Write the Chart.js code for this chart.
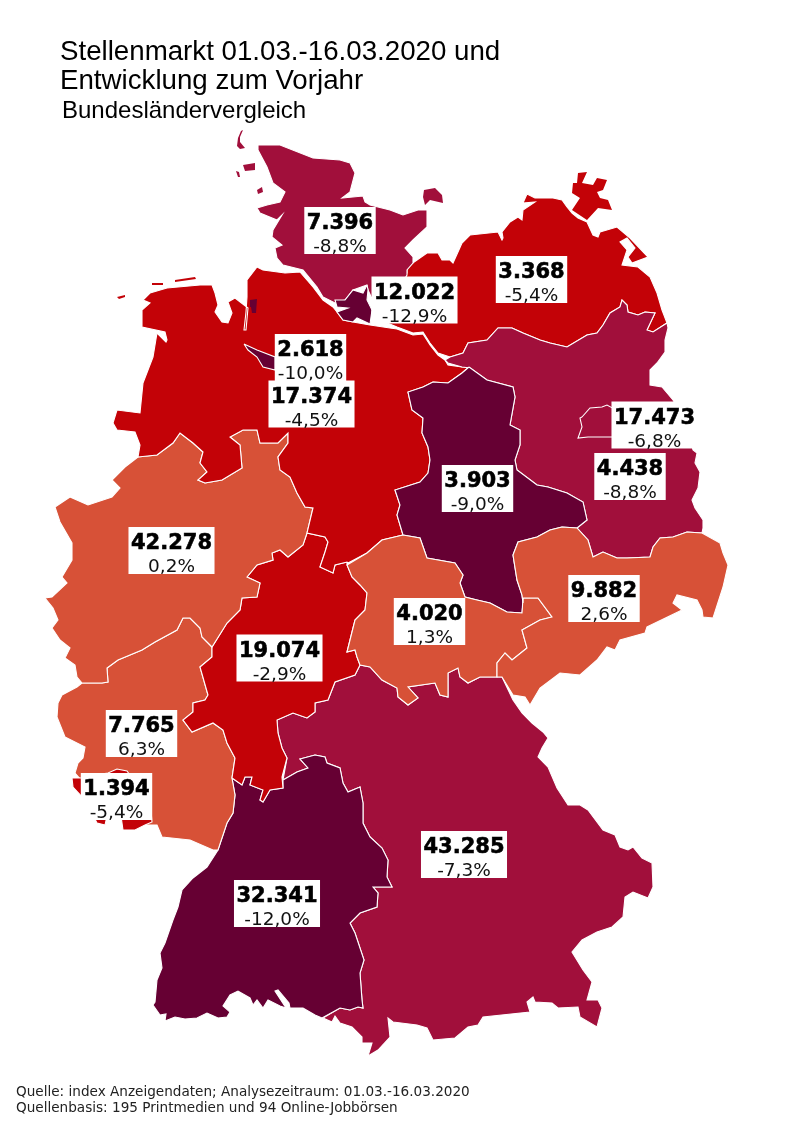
<!DOCTYPE html>
<html lang="de">
<head>
<meta charset="utf-8">
<title>Stellenmarkt 01.03.-16.03.2020</title>
<script src="https://cdn.jsdelivr.net/npm/chart.js@4"></script>
<style>
  html, body { margin: 0; padding: 0; background: #fff; }
  #page { position: relative; width: 800px; height: 1131px; overflow: hidden; }
  #myChart { position: absolute; left: 0; top: 0; }
  .txt { position: absolute; white-space: nowrap; color: #000; }
  .title { font-family: "Liberation Sans", sans-serif; font-size: 27.7px; line-height: 29px; left: 60px; }
  .sub { font-family: "Liberation Sans", sans-serif; font-size: 24px; line-height: 26px; left: 62px; top: 97px; }
  .foot { font-family: "DejaVu Sans", sans-serif; font-size: 13.6px; line-height: 16px; left: 16px; color: #222; }
</style>
</head>
<body>
<div id="page">
  <canvas id="myChart" width="800" height="1131"></canvas>
  <div class="txt title" style="top:36px">Stellenmarkt 01.03.-16.03.2020 und</div>
  <div class="txt title" style="top:65px">Entwicklung zum Vorjahr</div>
  <div class="txt sub">Bundesländervergleich</div>
  <div class="txt foot" style="top:1083px">Quelle: index Anzeigendaten; Analysezeitraum: 01.03.-16.03.2020</div>
  <div class="txt foot" style="top:1099px">Quellenbasis: 195 Printmedien und 94 Online-Jobbörsen</div>
</div>
<script>
// values per Bundesland
const states = ["Schleswig-Holstein", "Hamburg", "Mecklenburg-Vorpommern", "Bremen", "Niedersachsen", "Berlin", "Brandenburg", "Sachsen-Anhalt", "Nordrhein-Westfalen", "Thüringen", "Sachsen", "Hessen", "Rheinland-Pfalz", "Saarland", "Baden-Württemberg", "Bayern"];
const jobs = [7396, 12022, 3368, 2618, 17374, 17473, 4438, 3903, 42278, 4020, 9882, 19074, 7765, 1394, 32341, 43285];
const change = [-8.8, -12.9, -5.4, -10.0, -4.5, -6.8, -8.8, -9.0, 0.2, 1.3, 2.6, -2.9, 6.3, -5.4, -12.0, -7.3];

// where the label sits on the map (centre of the white box)
const labelX = [340, 414.5, 531.5, 310.5, 311.5, 654.5, 630, 477.5, 171.5, 429.5, 604, 279.5, 141.5, 116.5, 277, 464];
const labelY = [230.5, 300, 279.5, 357.5, 404, 425, 476.5, 488.5, 550.5, 621.5, 598.5, 658, 733.5, 796.5, 903.5, 854.5];

// outlines, one list of rings per state
const schleswigHolstein = [
  [[258,145],[280,145],[313,158],[340,160],[350,163],[355,173],[350,192],[342,198],[363,196],[365,202],[370,205],[390,210],[403,215],[418,210],[427,210],[427,227],[413,240],[405,248],[413,257],[413,263],[407,270],[407,275],[395,295],[375,305],[368,290],[367,285],[353,290],[345,300],[335,303],[323,297],[317,287],[303,270],[283,265],[277,258],[275,248],[282,245],[272,237],[273,230],[282,215],[277,220],[260,213],[257,208],[267,205],[280,202],[285,192],[273,183],[267,167],[258,150]],
  [[424,190],[435,188],[442,195],[443,203],[430,200],[425,205],[423,197]],
  [[243,165],[255,163],[255,170],[245,171]],
  [[236,171],[239,172],[240,177],[238,177]],
  [[257,190],[262,187],[263,192],[258,194]],
  [[237,146],[238,138],[241,131],[243,130],[240,137],[240,142],[245,148],[240,149]]
];
const hamburg = [
  [[367,285],[363,293],[353,290],[345,300],[335,300],[337,307],[348,308],[337,312],[343,320],[353,322],[357,318],[370,324],[372,310],[367,300],[368,290]]
];
const mecklenburg = [
  [[407,273],[407,267],[417,260],[427,253],[438,253],[442,260],[450,260],[453,263],[458,252],[462,243],[470,235],[498,232],[502,240],[503,238],[502,232],[510,222],[518,217],[522,220],[523,210],[535,202],[523,203],[527,194],[535,198],[553,198],[562,200],[567,207],[572,213],[578,218],[587,222],[593,235],[598,237],[600,232],[617,227],[630,238],[648,257],[632,263],[628,257],[635,248],[627,238],[620,242],[627,250],[622,265],[638,267],[650,277],[657,293],[662,310],[667,323],[653,332],[647,330],[655,313],[645,312],[638,315],[628,312],[627,305],[622,300],[620,307],[610,313],[603,325],[597,333],[587,335],[567,347],[550,343],[540,340],[523,333],[512,328],[498,328],[487,340],[468,343],[463,353],[450,357],[438,353],[430,343],[423,332],[413,333],[397,327],[385,322],[395,300]],
  [[572,193],[573,183],[577,183],[578,173],[587,172],[582,183],[593,185],[597,178],[607,180],[603,190],[597,192],[600,198],[608,200],[612,210],[598,208],[587,220],[572,210],[580,198]]
];
const bremen = [
  [[244,344],[257,350],[275,357],[275,370],[263,367],[257,357],[248,350]],
  [[250,300],[257,299],[256,313],[252,313],[251,307]]
];
const niedersachsen = [
  [[150,293],[167,288],[200,285],[212,285],[215,293],[218,305],[215,312],[222,322],[228,323],[232,313],[228,302],[235,298],[248,308],[246,330],[244,330],[246,312],[247,297],[247,280],[257,267],[263,270],[285,273],[300,272],[313,287],[323,300],[333,307],[337,312],[343,320],[353,322],[370,325],[390,328],[397,329],[413,335],[423,334],[430,345],[438,355],[445,360],[448,365],[462,367],[469,367],[462,373],[448,383],[433,382],[423,387],[408,392],[412,410],[423,418],[422,433],[428,447],[430,460],[428,473],[420,482],[395,490],[400,505],[397,515],[403,535],[382,540],[367,553],[348,563],[347,562],[335,565],[333,573],[320,567],[325,552],[328,542],[325,537],[307,533],[313,508],[305,507],[297,493],[290,477],[280,470],[278,457],[288,443],[288,433],[278,443],[260,443],[257,430],[243,430],[230,437],[240,445],[242,468],[222,480],[205,483],[198,480],[207,472],[200,463],[203,452],[193,443],[180,433],[173,443],[157,455],[138,457],[140,445],[135,432],[117,430],[113,423],[117,410],[140,413],[143,383],[153,357],[157,333],[166,342],[167,340],[165,332],[142,327],[142,310],[150,303],[143,300]],
  [[152,283],[163,283],[163,285],[152,285]],
  [[175,280],[195,277],[196,279],[175,282]],
  [[117,297],[125,295],[125,297],[119,299]]
];
const berlin = [
  [[582,417],[590,408],[602,407],[607,405],[620,412],[625,430],[612,437],[597,437],[588,437],[578,438],[582,427],[580,418]]
];
const brandenburg = [
  [[445,360],[450,357],[463,353],[468,343],[487,340],[498,328],[512,328],[523,333],[540,340],[550,343],[567,347],[587,335],[597,333],[603,325],[610,313],[620,307],[622,300],[627,305],[628,312],[638,315],[645,312],[655,313],[647,330],[653,332],[667,323],[668,328],[665,340],[665,352],[657,363],[650,370],[650,385],[662,387],[673,400],[685,420],[693,450],[697,453],[695,463],[700,472],[698,488],[692,500],[695,508],[703,520],[703,528],[702,533],[687,532],[673,537],[660,538],[653,547],[650,557],[627,558],[617,558],[603,552],[593,557],[588,540],[577,528],[587,520],[583,502],[567,493],[548,487],[537,485],[517,470],[515,460],[520,445],[520,430],[510,425],[515,397],[513,387],[487,380],[470,368],[462,367],[448,363]]
];
const sachsenAnhalt = [
  [[469,367],[487,380],[513,387],[515,397],[510,425],[520,430],[520,445],[515,460],[517,470],[537,485],[548,487],[567,493],[583,502],[587,520],[577,528],[562,527],[550,530],[537,537],[518,542],[513,555],[517,580],[522,595],[523,603],[522,613],[507,612],[490,603],[477,600],[465,597],[460,583],[463,575],[455,563],[427,558],[420,538],[403,535],[397,515],[400,505],[395,490],[420,482],[428,473],[430,460],[428,447],[422,433],[423,418],[412,410],[408,392],[423,387],[433,382],[448,383],[462,373]]
];
const nordrheinWestfalen = [
  [[138,457],[157,455],[173,443],[180,433],[193,443],[203,452],[200,463],[207,472],[198,480],[205,483],[222,480],[242,468],[240,445],[230,437],[243,430],[257,430],[260,443],[278,443],[288,433],[288,443],[278,457],[280,470],[290,477],[297,493],[305,507],[313,508],[307,533],[303,545],[288,557],[280,550],[272,553],[273,560],[257,565],[247,577],[260,583],[257,597],[242,598],[240,610],[227,623],[212,647],[202,637],[200,628],[190,618],[183,618],[177,630],[155,642],[142,650],[118,660],[107,668],[108,682],[102,683],[82,683],[77,677],[75,665],[65,658],[70,648],[60,640],[52,628],[58,620],[53,608],[45,598],[52,597],[67,583],[62,577],[72,560],[72,543],[60,522],[55,507],[70,497],[88,505],[112,497],[120,488],[112,480],[125,467]]
];
const thueringen = [
  [[403,535],[420,538],[427,558],[455,563],[463,575],[460,583],[465,597],[477,600],[490,603],[507,612],[522,613],[523,598],[538,598],[552,617],[540,620],[522,630],[527,648],[512,660],[505,653],[497,663],[497,677],[480,677],[468,683],[460,677],[458,668],[448,673],[448,697],[440,695],[435,683],[408,687],[418,698],[408,705],[398,697],[397,688],[382,680],[370,667],[360,665],[357,657],[355,650],[347,652],[352,632],[355,620],[365,610],[367,593],[360,585],[352,577],[347,565],[367,553],[382,540]]
];
const sachsen = [
  [[513,555],[518,542],[537,537],[550,530],[562,527],[577,528],[588,540],[593,557],[603,552],[617,558],[627,558],[650,557],[653,547],[660,538],[673,537],[687,532],[702,533],[720,543],[723,553],[728,565],[723,587],[713,618],[703,617],[702,610],[697,600],[677,595],[673,603],[682,610],[647,627],[645,633],[620,640],[615,650],[607,647],[597,660],[580,675],[560,673],[540,688],[530,705],[525,697],[513,695],[502,677],[497,677],[497,663],[505,653],[512,660],[527,648],[522,630],[540,620],[552,617],[538,598],[523,598],[523,603],[522,595],[517,580]]
];
const hessen = [
  [[307,533],[325,537],[328,542],[325,552],[320,567],[333,573],[335,565],[347,562],[347,565],[352,577],[360,585],[367,593],[365,610],[355,620],[352,632],[347,652],[355,650],[357,657],[360,665],[355,675],[335,682],[328,700],[315,703],[315,712],[307,718],[293,713],[277,720],[278,733],[282,748],[287,758],[282,777],[283,788],[270,790],[263,802],[260,800],[263,790],[250,785],[252,777],[245,777],[242,785],[232,778],[235,758],[227,743],[223,730],[213,723],[192,732],[183,720],[193,712],[193,703],[205,700],[208,695],[200,667],[212,657],[212,647],[227,623],[240,610],[242,598],[257,597],[260,583],[247,577],[257,565],[273,560],[272,553],[280,550],[288,557],[303,545]]
];
const rheinlandPfalz = [
  [[82,683],[102,683],[108,682],[107,668],[118,660],[142,650],[155,642],[177,630],[183,618],[190,618],[200,628],[202,637],[212,647],[212,657],[200,667],[208,695],[205,700],[193,703],[193,712],[183,720],[192,732],[213,723],[223,730],[227,743],[235,758],[232,778],[235,795],[233,813],[227,823],[218,850],[213,850],[190,840],[162,837],[157,825],[145,825],[120,810],[90,790],[75,773],[78,763],[83,758],[85,747],[65,737],[57,717],[58,703],[62,695],[77,687]]
];
const saarland = [
  [[72,778],[81,778],[95,775],[108,773],[117,769],[127,771],[132,778],[150,800],[152,822],[145,825],[135,830],[123,830],[121,816],[107,816],[105,825],[97,823],[85,800],[73,787]]
];
const badenWuerttemberg = [
  [[232,778],[242,785],[245,777],[252,777],[250,785],[263,790],[260,800],[263,802],[270,790],[283,788],[283,780],[297,772],[308,768],[300,759],[315,755],[325,757],[327,763],[340,768],[343,783],[348,792],[360,787],[363,803],[363,823],[370,837],[382,848],[388,860],[387,877],[392,887],[383,887],[373,887],[378,893],[377,907],[360,913],[350,923],[355,933],[364,960],[360,973],[362,1000],[363,1008],[358,1007],[350,1010],[340,1008],[322,1018],[315,1015],[303,1008],[297,1008],[290,1008],[289,1003],[278,990],[275,991],[286,1008],[280,1006],[268,1000],[263,1008],[257,1000],[253,1005],[250,998],[238,991],[230,995],[223,1006],[230,1012],[227,1017],[218,1018],[207,1013],[197,1018],[185,1019],[175,1017],[165,1021],[166,1014],[160,1015],[153,1005],[155,1002],[157,980],[162,968],[160,953],[165,943],[173,920],[178,907],[182,890],[193,878],[207,867],[218,850],[227,823],[233,813],[235,795]]
];
const bayern = [
  [[360,665],[370,667],[382,680],[397,688],[398,697],[408,705],[418,698],[408,687],[435,683],[440,695],[448,697],[448,673],[458,668],[460,677],[468,683],[480,677],[497,677],[502,677],[513,700],[522,713],[532,723],[543,732],[548,738],[542,748],[538,757],[548,767],[557,788],[568,805],[580,805],[588,810],[603,830],[615,835],[620,847],[628,850],[633,847],[642,858],[652,863],[653,887],[648,898],[633,892],[625,897],[623,917],[612,927],[597,932],[582,940],[572,952],[583,970],[592,982],[587,1000],[598,1000],[602,1008],[597,1027],[580,1017],[578,1007],[558,1008],[552,1003],[535,1002],[533,997],[527,1002],[530,1012],[483,1017],[478,1025],[468,1027],[455,1038],[433,1040],[427,1028],[417,1025],[393,1022],[388,1018],[390,1037],[378,1050],[368,1056],[372,1043],[362,1043],[362,1037],[352,1027],[340,1023],[335,1016],[332,1022],[323,1018],[340,1008],[350,1010],[358,1007],[363,1008],[362,1000],[360,973],[364,960],[355,933],[350,923],[360,913],[377,907],[378,893],[373,887],[392,887],[387,877],[388,860],[382,848],[370,837],[363,823],[363,803],[360,787],[348,792],[343,783],[340,768],[327,763],[325,757],[315,755],[300,759],[308,768],[297,772],[283,780],[287,758],[282,748],[278,733],[277,720],[293,713],[307,718],[315,712],[315,703],[328,700],[335,682],[355,675]]
];
const outlines = [schleswigHolstein, hamburg, mecklenburg, bremen, niedersachsen, berlin, brandenburg, sachsenAnhalt, nordrheinWestfalen, thueringen, sachsen, hessen, rheinlandPfalz, saarland, badenWuerttemberg, bayern];
// painting order, later ones cover the earlier ones
const paintOrder = [15, 14, 12, 13, 11, 8, 4, 3, 2, 0, 1, 6, 5, 7, 9, 10];

function classColor(pct) {
  if (pct >= 0) return "#D75137";
  if (pct > -6) return "#C30207";
  if (pct > -9) return "#A10F3B";
  return "#660033";
}

function generateDatasets() {
  const datasets = [];
  paintOrder.forEach((s) => {
    outlines[s].forEach((ring, r) => {
      const pts = ring.map((p) => ({ x: p[0], y: p[1] }));
      pts.push(pts[0]);
      datasets.unshift({
        label: states[s],
        data: pts,
        showLine: true,
        fill: "shape",
        backgroundColor: classColor(change[s]),
        borderColor: "#ffffff",
        borderWidth: r == 0 ? 1.1 : 0,
        pointRadius: 0,
        tension: 0,
        clip: false,
      });
    });
  });
  return datasets;
}

function fmtJobs(v) {
  const s = String(v);
  return s.length > 3 ? s.slice(0, -3) + "." + s.slice(-3) : s;
}
function fmtPct(v) {
  return v.toFixed(1).replace(".", ",") + "%";
}

const labelBoxes = {
  id: "labelBoxes",
  afterDatasetsDraw(chart) {
    const { ctx, scales } = chart;
    ctx.save();
    ctx.textAlign = "center";
    states.forEach((name, i) => {
      const cx = scales.x.getPixelForValue(labelX[i]);
      const cy = scales.y.getPixelForValue(labelY[i]);
      ctx.font = "bold 21px 'DejaVu Sans'";
      const w = ctx.measureText(fmtJobs(jobs[i])).width + 5;
      ctx.fillStyle = "#ffffff";
      ctx.fillRect(cx - w / 2, cy - 23.5, w, 47);
      ctx.fillStyle = "#000000";
      ctx.strokeStyle = "#000000";
      ctx.lineWidth = 0.6;
      ctx.fillText(fmtJobs(jobs[i]), cx, cy - 1.5);
      ctx.strokeText(fmtJobs(jobs[i]), cx, cy - 1.5);
      ctx.font = "18.5px 'DejaVu Sans'";
      ctx.fillStyle = "#111111";
      ctx.fillText(fmtPct(change[i]), cx, cy + 21.5);
    });
    ctx.restore();
  },
};

new Chart(document.getElementById("myChart"), {
  type: "scatter",
  data: { datasets: generateDatasets() },
  options: {
    responsive: false,
    animation: false,
    events: [],
    layout: { padding: 0 },
    plugins: { legend: { display: false }, tooltip: { enabled: false }, title: { display: false } },
    scales: {
      x: { type: "linear", min: 0, max: 800, display: false },
      y: { type: "linear", min: 0, max: 1131, reverse: true, display: false },
    },
  },
  plugins: [labelBoxes],
});
</script>
</body>
</html>
